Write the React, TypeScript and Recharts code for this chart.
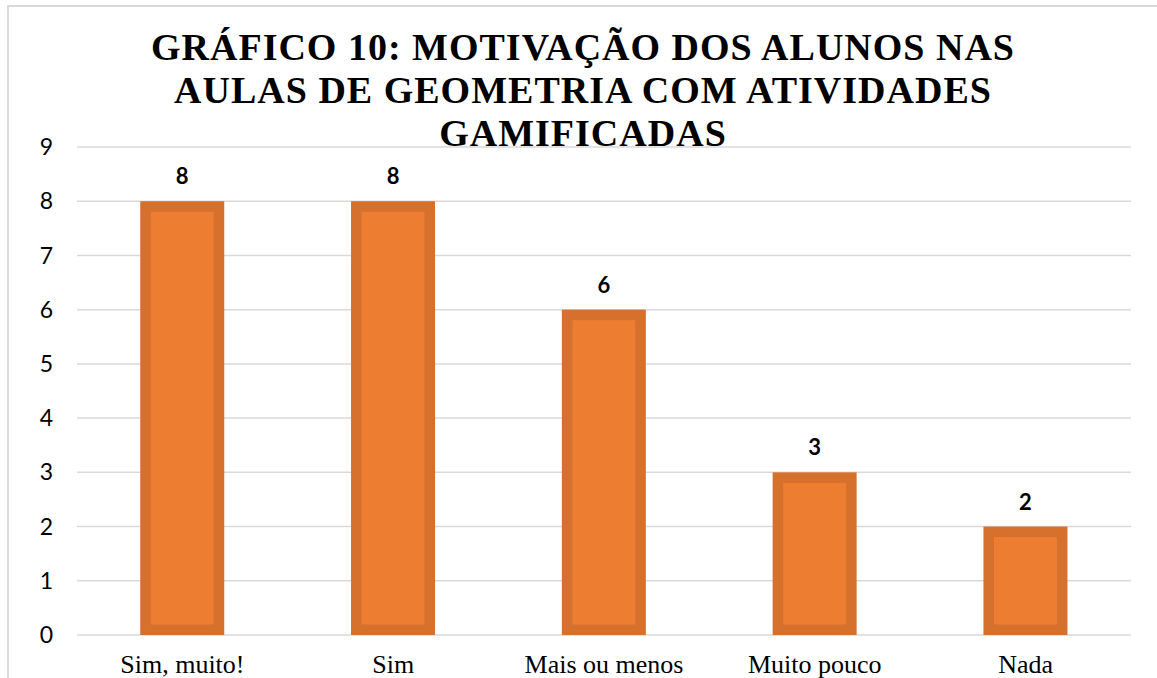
import { Bar, BarChart, CartesianGrid, LabelList, XAxis, YAxis } from "recharts";

const categories = ["Sim, muito!", "Sim", "Mais ou menos", "Muito pouco", "Nada"];
const counts = [8, 8, 6, 3, 2];
const yTicks = [0, 1, 2, 3, 4, 5, 6, 7, 8, 9];
const titleLines = [
  "GRÁFICO 10: MOTIVAÇÃO DOS ALUNOS NAS",
  "AULAS DE GEOMETRIA COM ATIVIDADES",
  "GAMIFICADAS",
];

const data = categories.map((label, i) => ({ label, value: counts[i] }));

const BORDER = "#D6702D";
const FILL = "#ED7D31";

function FramedBar(props: any) {
  const { x, y, width, height } = props;
  if (!height || height <= 0) return null;
  const inset = 10.5;
  return (
    <g>
      <rect x={x} y={y} width={width} height={height} fill={BORDER} />
      <rect
        x={x + inset}
        y={y + inset}
        width={Math.max(0, width - inset * 2)}
        height={Math.max(0, height - inset * 2)}
        fill={FILL}
      />
    </g>
  );
}

export default function App() {
  return (
    <div
      style={{
        position: "absolute",
        left: 0,
        top: 0,
        width: 1157,
        height: 678,
        overflow: "hidden",
        background: "#fff",
      }}
    >
      <div
        style={{
          position: "absolute",
          left: 7,
          top: 5,
          width: 1200,
          height: 700,
          borderLeft: "2px solid #D9D9D9",
          borderTop: "2px solid #D9D9D9",
        }}
      />
      <BarChart
        width={1157}
        height={678}
        data={data}
        margin={{ top: 147, right: 26, bottom: 0, left: 0 }}
        barCategoryGap="30%"
      >
        <CartesianGrid stroke="#D9D9D9" strokeWidth={1.5} vertical={false} />
        <XAxis
          dataKey="label"
          height={43}
          tickLine={false}
          axisLine={false}
          tickSize={0}
          tickMargin={20}
          interval={0}
          tick={{ fill: "#000", fontSize: 26, fontFamily: "Liberation Serif" }}
        />
        <YAxis
          width={77}
          domain={[0, 9]}
          ticks={yTicks}
          interval={0}
          tickLine={false}
          axisLine={false}
          tickSize={0}
          tickMargin={24}
          tick={{ fill: "#000", fontSize: 23, fontFamily: "Lato" }}
        />
        <Bar dataKey="value" shape={FramedBar} isAnimationActive={false}>
          <LabelList
            dataKey="value"
            position="top"
            offset={17}
            fill="#000"
            fontSize={22}
            fontWeight="bold"
            fontFamily="Lato"
          />
        </Bar>
      </BarChart>
      <div
        style={{
          position: "absolute",
          left: 0,
          top: 26,
          width: 1166,
          textAlign: "center",
          fontFamily: "Liberation Serif",
          fontWeight: "bold",
          fontSize: 38,
          lineHeight: "43px",
          letterSpacing: 1,
          color: "#000",
        }}
      >
        {titleLines.map((line) => (
          <div key={line}>{line}</div>
        ))}
      </div>
    </div>
  );
}
